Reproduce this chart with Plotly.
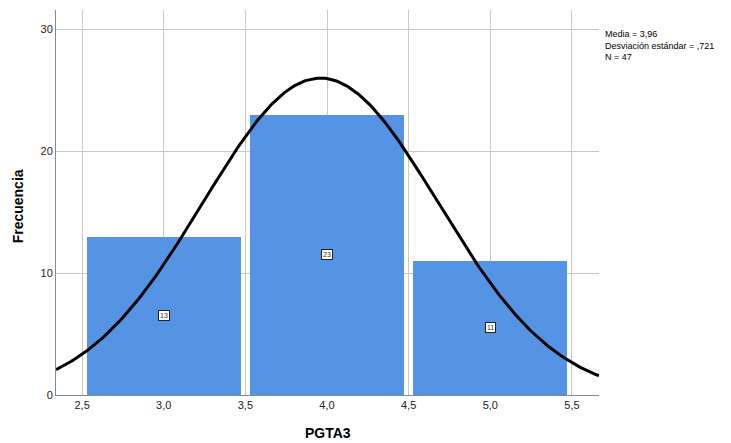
import numpy as np
import plotly.graph_objects as go

# Data
bin_centers = [3.0, 4.0, 5.0]
frequencies = [13, 23, 11]
mean_val = 3.96
sd_val = 0.721
n_val = 47
bin_width = 1.0
x_ticks = [2.5, 3.0, 3.5, 4.0, 4.5, 5.0, 5.5]
y_ticks = [0, 10, 20, 30]

x_range = [2.34, 5.666]
y_range = [0, 31.6]

fig = go.Figure()

fig.add_trace(go.Bar(
    x=bin_centers, y=frequencies, width=0.945,
    marker=dict(color="#5594E4", line=dict(width=0)),
    hoverinfo="skip", showlegend=False,
))

xs = np.linspace(x_range[0], x_range[1], 300)
ys = n_val * bin_width / (sd_val * np.sqrt(2 * np.pi)) * np.exp(-0.5 * ((xs - mean_val) / sd_val) ** 2)
fig.add_trace(go.Scatter(
    x=xs, y=ys, mode="lines", line=dict(color="black", width=3),
    hoverinfo="skip", showlegend=False,
))

for xc, f in zip(bin_centers, frequencies):
    fig.add_annotation(
        x=xc, y=f / 2, text=str(f), showarrow=False,
        font=dict(family="Liberation Sans, Arial", size=7, color="#333"),
        bgcolor="white", bordercolor="#222", borderwidth=1, borderpad=1,
    )

fig.add_annotation(
    xref="paper", yref="paper", x=1.008, y=0.955, xanchor="left", yanchor="top",
    align="left", showarrow=False,
    text="Media = 3,96<br>Desviación estándar = ,721<br>N = 47",
    font=dict(family="Liberation Sans, Arial", size=9, color="black"),
)

# axis titles
fig.add_annotation(
    xref="paper", yref="paper", x=0.5, y=-0.098, xanchor="center", yanchor="middle",
    showarrow=False, text="<b>PGTA3</b>",
    font=dict(family="Liberation Sans, Arial", size=14, color="black"),
)
fig.add_annotation(
    xref="paper", yref="paper", x=-0.07, y=0.49, xanchor="center", yanchor="middle",
    showarrow=False, text="<b>Frecuencia</b>", textangle=-90,
    font=dict(family="Liberation Sans, Arial", size=14, color="black"),
)

fig.update_layout(
    width=723, height=435,
    margin=dict(l=48, r=132, t=2, b=48),
    plot_bgcolor="white", paper_bgcolor="white",
    separators=",.",
    font=dict(family="Liberation Sans, Arial", size=11, color="#222"),
    xaxis=dict(
        range=x_range, tickvals=x_ticks, tickformat=".1f",
        showgrid=True, gridcolor="#C8C8C8", gridwidth=1,
        showline=True, linecolor="#888", linewidth=1,
        zeroline=False, ticks="", automargin=False,
        tickfont=dict(size=11, color="#222"),
    ),
    yaxis=dict(
        range=y_range, tickvals=y_ticks,
        showgrid=True, gridcolor="#C8C8C8", gridwidth=1,
        showline=True, linecolor="#888", linewidth=1,
        zeroline=False, ticks="", automargin=False,
        tickfont=dict(size=11, color="#222"),
    ),
    bargap=0,
)

fig.write_html("out.html")
